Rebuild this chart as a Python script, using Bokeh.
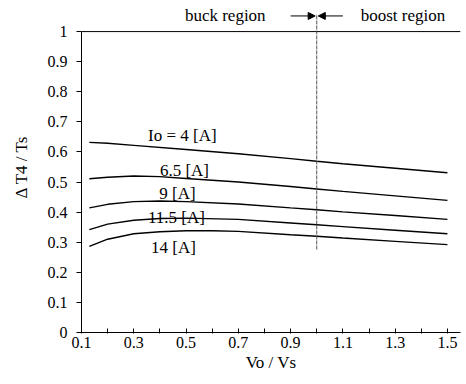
from bokeh.plotting import figure
from bokeh.models import Range1d, FixedTicker, Arrow, NormalHead, ColumnDataSource
from bokeh.core.properties import value
from bokeh.embed import file_html
from bokeh.resources import INLINE

# ---- data ----
x_io4 = [0.13, 0.2, 0.3, 0.5, 0.7, 0.9, 1.0, 1.1, 1.3, 1.5]
y_io4 = [0.632, 0.629, 0.622, 0.608, 0.594, 0.578, 0.569, 0.561, 0.546, 0.531]

x_io65 = [0.13, 0.2, 0.3, 0.4, 0.5, 0.7, 0.9, 1.0, 1.1, 1.3, 1.5]
y_io65 = [0.511, 0.516, 0.520, 0.518, 0.512, 0.500, 0.485, 0.477, 0.469, 0.454, 0.439]

x_io9 = [0.13, 0.2, 0.3, 0.4, 0.5, 0.7, 0.9, 1.0, 1.1, 1.3, 1.5]
y_io9 = [0.414, 0.426, 0.435, 0.437, 0.435, 0.427, 0.414, 0.408, 0.401, 0.389, 0.376]

x_io115 = [0.13, 0.2, 0.3, 0.4, 0.5, 0.7, 0.9, 1.0, 1.1, 1.3, 1.5]
y_io115 = [0.342, 0.360, 0.373, 0.379, 0.380, 0.376, 0.364, 0.358, 0.352, 0.340, 0.328]

x_io14 = [0.13, 0.2, 0.3, 0.4, 0.5, 0.6, 0.7, 0.9, 1.0, 1.1, 1.3, 1.5]
y_io14 = [0.286, 0.310, 0.328, 0.335, 0.338, 0.338, 0.336, 0.325, 0.320, 0.314, 0.303, 0.292]

curve_labels = ["Io = 4 [A]", "6.5 [A]", "9 [A]", "11.5 [A]", "14 [A]"]
label_x = [0.486, 0.494, 0.467, 0.463, 0.452]
label_y = [0.655, 0.538, 0.461, 0.381, 0.283]

region_labels = ["buck region", "boost region"]
region_x = [0.65, 1.33]
region_y = [1.052, 1.052]

x_ticks = [0.1, 0.3, 0.5, 0.7, 0.9, 1.1, 1.3, 1.5]
x_minor = [0.2, 0.4, 0.6, 0.8, 1.0, 1.2, 1.4]
y_ticks = [0, 0.1, 0.2, 0.3, 0.4, 0.5, 0.6, 0.7, 0.8, 0.9, 1]
boundary_x = 1.0

FONT = "'Liberation Serif', 'Times New Roman', Tinos, serif"

p = figure(width=466, height=384, output_backend="svg", toolbar_location=None,
           x_range=Range1d(0.1, 1.55), y_range=Range1d(0, 1.1),
           min_border_left=81, min_border_right=6, min_border_top=1, min_border_bottom=52)
p.outline_line_color = None
p.grid.visible = False
p.background_fill_color = "white"
p.border_fill_color = "white"

for ax in (p.xaxis[0], p.yaxis[0]):
    ax.axis_line_color = "black"
    ax.major_tick_line_color = "black"
    ax.minor_tick_line_color = "black"
    ax.major_label_text_font = FONT
    ax.major_label_text_font_size = "16px"
    ax.major_label_text_color = "black"
    ax.axis_label_text_font = FONT
    ax.axis_label_text_font_size = "17px"
    ax.axis_label_text_font_style = "normal"
    ax.axis_label_text_color = "black"

p.xaxis.ticker = FixedTicker(ticks=x_ticks, minor_ticks=x_minor)
p.xaxis.major_tick_in = 4
p.xaxis.major_tick_out = 1
p.xaxis.minor_tick_in = 4
p.xaxis.minor_tick_out = 1
p.xaxis.major_label_standoff = 3
p.xaxis.axis_label = "Vo / Vs"
p.xaxis.axis_label_standoff = 2

p.yaxis.ticker = FixedTicker(ticks=y_ticks, minor_ticks=[])
p.yaxis.bounds = (0, 1)
p.yaxis.major_tick_in = 0
p.yaxis.major_tick_out = 5
p.yaxis.major_label_standoff = 9
p.yaxis.axis_label = "Δ T4 / Ts"
p.yaxis.axis_label_standoff = 14

# top border at y = 1
p.segment(x0=[0.1], y0=[1.0], x1=[1.55], y1=[1.0], line_color="black", line_width=1)

for xs, ys in [(x_io4, y_io4), (x_io65, y_io65), (x_io9, y_io9), (x_io115, y_io115), (x_io14, y_io14)]:
    p.line(xs, ys, line_color="black", line_width=1.4)

src = ColumnDataSource(dict(x=label_x, y=label_y, t=curve_labels))
p.text("x", "y", text="t", source=src, text_font=value(FONT), text_font_size="17px",
       text_align="center", text_baseline="middle", text_color="black")

rsrc = ColumnDataSource(dict(x=region_x, y=region_y, t=region_labels))
p.text("x", "y", text="t", source=rsrc, text_font=value(FONT), text_font_size="17px",
       text_align="center", text_baseline="middle", text_color="black")

# boundary line (dashed) extending above the plot
p.segment(x0=[boundary_x], y0=[0.276], x1=[boundary_x], y1=[1.058],
          line_color="#555555", line_width=1, line_dash="4 1")

# region arrows
p.add_layout(Arrow(x_start=boundary_x - 0.1, y_start=1.052, x_end=boundary_x - 0.006, y_end=1.052,
                   end=NormalHead(size=7, fill_color="black", line_color="black"),
                   line_color="black", line_width=1))
p.add_layout(Arrow(x_start=boundary_x + 0.1, y_start=1.052, x_end=boundary_x + 0.006, y_end=1.052,
                   end=NormalHead(size=7, fill_color="black", line_color="black"),
                   line_color="black", line_width=1))

open("out.html", "w").write(file_html(p, INLINE))
